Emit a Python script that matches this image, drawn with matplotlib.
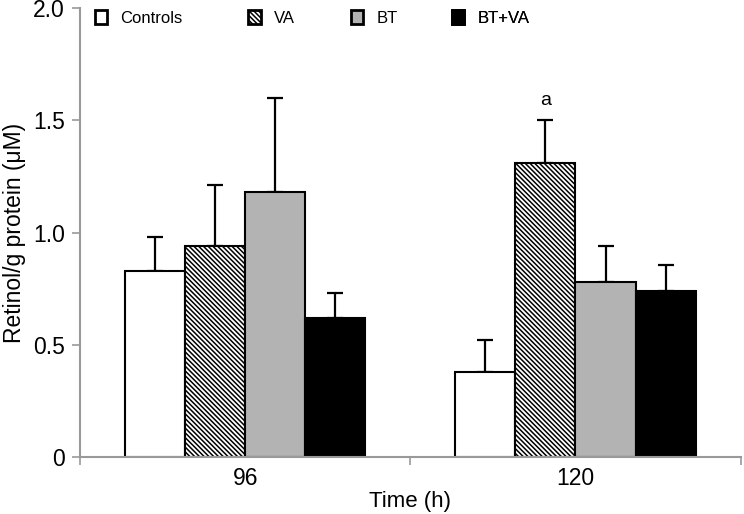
import matplotlib
matplotlib.use("Agg")
import matplotlib.pyplot as plt
from matplotlib.patches import Patch
import numpy as np

plt.rcParams['font.family'] = ['Liberation Sans', 'DejaVu Sans']
plt.rcParams['hatch.linewidth'] = 1.1

times = ["96", "120"]
groups = ["Controls", "VA", "BT", "BT+VA"]
means = {
    "Controls": [0.83, 0.38],
    "VA": [0.94, 1.31],
    "BT": [1.18, 0.78],
    "BT+VA": [0.62, 0.74],
}
err_up = {
    "Controls": [0.15, 0.14],
    "VA": [0.27, 0.19],
    "BT": [0.42, 0.16],
    "BT+VA": [0.11, 0.115],
}
annot_text = "a"
annot_group = "VA"
annot_time = 1

faces = {"Controls": "white", "VA": "white", "BT": "#b3b3b3", "BT+VA": "black"}
hatches = {"Controls": None, "VA": "\\" * 7, "BT": None, "BT+VA": None}

fig = plt.figure(figsize=(7.44, 5.14), dpi=100)
ax = fig.add_axes([0.1075, 0.111, 0.888, 0.873])

x = np.arange(len(times))
w = 0.182
for i, g in enumerate(groups):
    pos = x + (i - 1.5) * w
    ax.bar(pos, means[g], width=w, color=faces[g], edgecolor="black",
           linewidth=1.5, hatch=hatches[g], zorder=2)
    ax.errorbar(pos, means[g], yerr=[np.zeros(len(times)), err_up[g]],
                fmt="none", ecolor="black", elinewidth=1.6, capsize=6,
                capthick=1.6, zorder=1)
    if g == annot_group:
        ax.text(pos[annot_time], means[g][annot_time] + err_up[g][annot_time] + 0.05,
                annot_text, ha="center", va="bottom", fontsize=14)

ax.set_xlim(-0.5, 1.5)
ax.set_ylim(0, 2.0)
ax.set_yticks([0, 0.5, 1.0, 1.5, 2.0])
ax.set_yticklabels(["0", "0.5", "1.0", "1.5", "2.0"], fontsize=16.5)
ax.set_xticks(x)
ax.set_xticklabels(times, fontsize=16.5)
ax.set_xticks([-0.5, 0.5, 1.5], minor=True)
ax.tick_params(axis="x", which="major", length=0, pad=7)
ax.tick_params(axis="x", which="minor", length=6, color="#999999", width=1.2)
ax.tick_params(axis="y", length=6, color="#999999", width=1.2, direction="out", pad=5)
for s in ["top", "right"]:
    ax.spines[s].set_visible(False)
for s in ["left", "bottom"]:
    ax.spines[s].set_color("#999999")
    ax.spines[s].set_linewidth(1.5)

ax.set_xlabel("Time (h)", fontsize=16, labelpad=1)
ax.set_ylabel("Retinol/g protein (\u03bcM)", fontsize=16.5, labelpad=5)

# legend entries placed individually along the top
leg_x = [0.022, 0.255, 0.41, 0.563]
for g, lx in zip(groups, leg_x):
    h = Patch(facecolor=faces[g], edgecolor="black", linewidth=2.0, hatch=hatches[g])
    lg = ax.legend([h], [g], loc="center left", bbox_to_anchor=(lx, 0.978),
                   frameon=False, fontsize=12, handlelength=0.75, handleheight=0.9,
                   handletextpad=0.8, borderpad=0, borderaxespad=0)
    ax.add_artist(lg)

fig.savefig("out.png", dpi=100)
